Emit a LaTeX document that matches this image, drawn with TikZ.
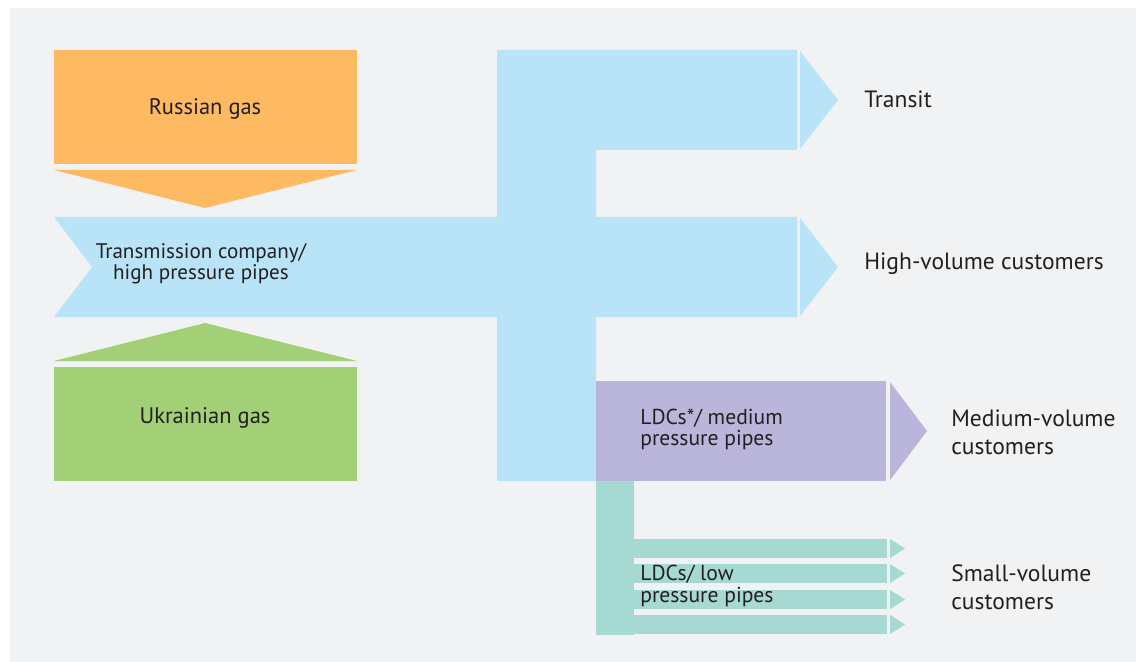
\documentclass[tikz,border=0pt]{standalone}
\usepackage{fontspec}
\setmainfont{PT Sans}
\definecolor{bgc}{HTML}{F1F2F4}
\definecolor{orangec}{HTML}{FDBA63}
\definecolor{bluec}{HTML}{B9E4F8}
\definecolor{greenc}{HTML}{A3D077}
\definecolor{purplec}{HTML}{BAB5DA}
\definecolor{tealc}{HTML}{A5D9D2}
\definecolor{txtc}{HTML}{231F20}
\begin{document}
\begin{tikzpicture}[x=0.02cm,y=-0.02cm,
  lbl/.style={text=txtc,font=\fontsize{12.8}{15}\selectfont,inner sep=0pt},
  inner/.style={lbl,align=left,font=\fontsize{12.3}{12}\selectfont},
  outer/.style={lbl,align=left,anchor=west,font=\fontsize{13.4}{16}\selectfont}]
\useasboundingbox (0,0) rectangle (1136,662);
\fill[white] (0,0) rectangle (1136,662);
\fill[bgc] (10,8) rectangle (1136,662);
% sources
\fill[orangec] (54,50) rectangle (357,164);
\fill[orangec] (54,170) -- (357,170) -- (205,208) -- cycle;
\fill[greenc] (54,367) rectangle (357,481);
\fill[greenc] (54,361) -- (357,361) -- (205,323) -- cycle;
% transmission (blue)
\fill[bluec] (54,217) -- (497,217) -- (497,50) -- (797,50) -- (797,150) -- (596,150)
  -- (596,217) -- (797,217) -- (797,317) -- (596,317) -- (596,481) -- (497,481)
  -- (497,317) -- (54,317) -- (92,267) -- cycle;
\fill[bluec] (800,51) -- (838,100) -- (800,149) -- cycle;
\fill[bluec] (800,218) -- (838,267) -- (800,316) -- cycle;
% medium pressure (purple)
\fill[purplec] (596,381) rectangle (886,481);
\fill[purplec] (890,382) -- (927,431) -- (890,480) -- cycle;
% low pressure (teal)
\fill[tealc] (596,481) rectangle (634,635);
\foreach \ya/\yb in {539/558,564/583,590/609,615/634}{
  \fill[tealc] (634,\ya) rectangle (887,\yb);
  \fill[tealc] (890,\ya) -- (905,{(\ya+\yb)/2}) -- (890,\yb) -- cycle;
}
% texts
\node[lbl] (russian) at (205,109) {Russian gas};
\node[lbl] (ukrainian) at (205,418) {Ukrainian gas};
\node[lbl,align=center,font=\fontsize{12}{12}\selectfont] (trans) at (201,264) {Transmission company/\\high pressure pipes};
\node[inner,anchor=west] (ldcmed) at (640,429) {LDCs*/ medium\\pressure pipes};
\node[inner,anchor=west] (ldclow) at (640,586) {LDCs/ low\\pressure pipes};
\node[outer] (transit) at (864,99) {Transit};
\node[outer] (high) at (864,264) {High-volume customers};
\node[outer] (medium) at (951,432) {Medium-volume\\customers};
\node[outer] (small) at (951,587) {Small-volume\\customers};
\end{tikzpicture}
\end{document}
